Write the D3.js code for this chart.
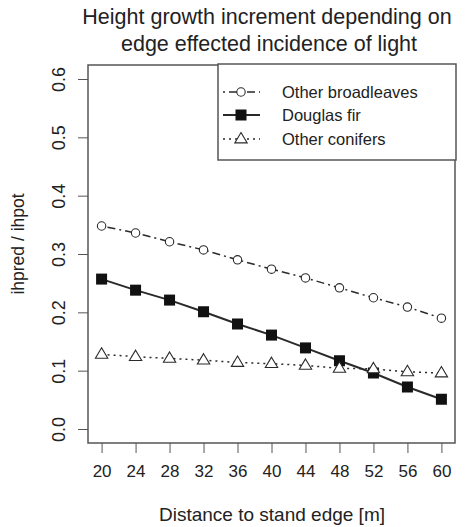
<!DOCTYPE html>
<html>
<head>
<meta charset="utf-8">
<script src="https://cdn.jsdelivr.net/npm/d3@7"></script>
<style>
  body { margin: 0; background: #fff; }
  text { font-family: "Liberation Sans", Arial, sans-serif; fill: #222; }
</style>
</head>
<body>
<div id="chart"></div>
<script>
const distances = [20, 24, 28, 32, 36, 40, 44, 48, 52, 56, 60];
const broadleaves = [0.348, 0.336, 0.321, 0.307, 0.290, 0.274, 0.259, 0.242, 0.225, 0.209, 0.190];
const douglasFir = [0.257, 0.238, 0.221, 0.201, 0.180, 0.161, 0.139, 0.117, 0.096, 0.072, 0.051];
const conifers = [0.128, 0.124, 0.121, 0.118, 0.114, 0.112, 0.109, 0.104, 0.103, 0.098, 0.096];
const yTicks = [0.0, 0.1, 0.2, 0.3, 0.4, 0.5, 0.6];
const seriesNames = ['Other broadleaves', 'Douglas fir', 'Other conifers'];

const W = 468, H = 527;
const margin = {top: 65, right: 13, bottom: 84, left: 88};
const width = W - margin.left - margin.right;
const height = H - margin.top - margin.bottom;

const svg = d3.select('#chart')
    .append('svg')
    .attr('width', W)
    .attr('height', H);

const g = svg.append('g')
    .attr('transform', `translate(${margin.left},${margin.top})`);

// Escalas (R style 4% padding)
const x = d3.scaleLinear().domain([18.4, 61.6]).range([0, width]);
const y = d3.scaleLinear().domain([-0.024, 0.624]).range([height, 0]);

const ink = '#2a2a2a';

// Axes
const xAxis = g.append('g')
    .attr('transform', `translate(0,${height})`)
    .call(d3.axisBottom(x).tickValues(distances).tickSize(10).tickPadding(12).tickSizeOuter(0));
xAxis.select('.domain').remove();
xAxis.selectAll('line').attr('stroke', '#555');
xAxis.selectAll('text').attr('font-size', 17).attr('fill', '#222')
    .style('font-family', '"Liberation Sans", Arial, sans-serif');

const yAxis = g.append('g')
    .call(d3.axisLeft(y).tickValues(yTicks).tickFormat(d3.format('.1f')).tickSize(10).tickSizeOuter(0));
yAxis.select('.domain').remove();
yAxis.selectAll('line').attr('stroke', '#555');
yAxis.selectAll('text').remove();
yAxis.selectAll('.tick').append('text')
    .attr('transform', 'translate(-23,0) rotate(-90)')
    .attr('text-anchor', 'middle')
    .attr('font-size', 18)
    .text(d => d3.format('.1f')(d));

// Box
g.append('rect')
    .attr('width', width).attr('height', height)
    .attr('fill', 'none').attr('stroke', '#555').attr('stroke-width', 1.5);

// Series
const series = [
  {name: seriesNames[0], values: broadleaves, dash: '2,4,8,4', lw: 1.5, shape: 'circle'},
  {name: seriesNames[1], values: douglasFir, dash: null, lw: 2, shape: 'square'},
  {name: seriesNames[2], values: conifers, dash: '2,4', lw: 1.5, shape: 'triangle'}
];

const line = d3.line().x((d, i) => x(distances[i])).y(d => y(d));

function drawSymbol(sel, shape, cx, cy) {
  if (shape === 'circle') {
    sel.append('circle').attr('cx', cx).attr('cy', cy).attr('r', 4.2)
      .attr('fill', '#fff').attr('stroke', ink).attr('stroke-width', 1.1);
  } else if (shape === 'square') {
    sel.append('rect').attr('x', cx - 5.5).attr('y', cy - 5.5).attr('width', 11).attr('height', 11)
      .attr('fill', '#111');
  } else {
    const s = 6.5;
    sel.append('path')
      .attr('d', `M${cx},${cy - s}L${cx + s * 0.95},${cy + s * 0.6}L${cx - s * 0.95},${cy + s * 0.6}Z`)
      .attr('fill', '#fff').attr('stroke', ink).attr('stroke-width', 1.1);
  }
}

series.forEach(s => {
  g.append('path')
    .datum(s.values)
    .attr('d', line)
    .attr('fill', 'none')
    .attr('stroke', ink)
    .attr('stroke-width', s.lw)
    .attr('stroke-dasharray', s.dash);
  const pts = g.append('g');
  s.values.forEach((v, i) => drawSymbol(pts, s.shape, x(distances[i]), y(v)));
});

// Legend
const lg = svg.append('g');
lg.append('rect')
    .attr('x', 218).attr('y', 64).attr('width', 238).attr('height', 96)
    .attr('fill', '#fff').attr('stroke', '#555').attr('stroke-width', 1.5);
const legendY = [92, 115, 139];
series.forEach((s, i) => {
  lg.append('line')
    .attr('x1', 223).attr('x2', 260).attr('y1', legendY[i]).attr('y2', legendY[i])
    .attr('stroke', ink).attr('stroke-width', s.lw)
    .attr('stroke-dasharray', s.dash);
  drawSymbol(lg, s.shape, 241, legendY[i]);
  lg.append('text')
    .attr('x', 282).attr('y', legendY[i] + 6)
    .attr('font-size', 16.5)
    .text(s.name);
});

// Title
svg.append('text').attr('x', 267).attr('y', 24).attr('text-anchor', 'middle')
    .attr('font-size', 21.5).text('Height growth increment depending on');
svg.append('text').attr('x', 269).attr('y', 51).attr('text-anchor', 'middle')
    .attr('font-size', 21.5).text('edge effected incidence of light');

// Labels
svg.append('text')
    .attr('x', 272).attr('y', 521)
    .attr('text-anchor', 'middle').attr('font-size', 19)
    .text('Distance to stand edge [m]');
svg.append('text')
    .attr('transform', `translate(24,${244}) rotate(-90)`)
    .attr('text-anchor', 'middle').attr('font-size', 17.5)
    .text('ihpred / ihpot');
</script>
</body>
</html>
